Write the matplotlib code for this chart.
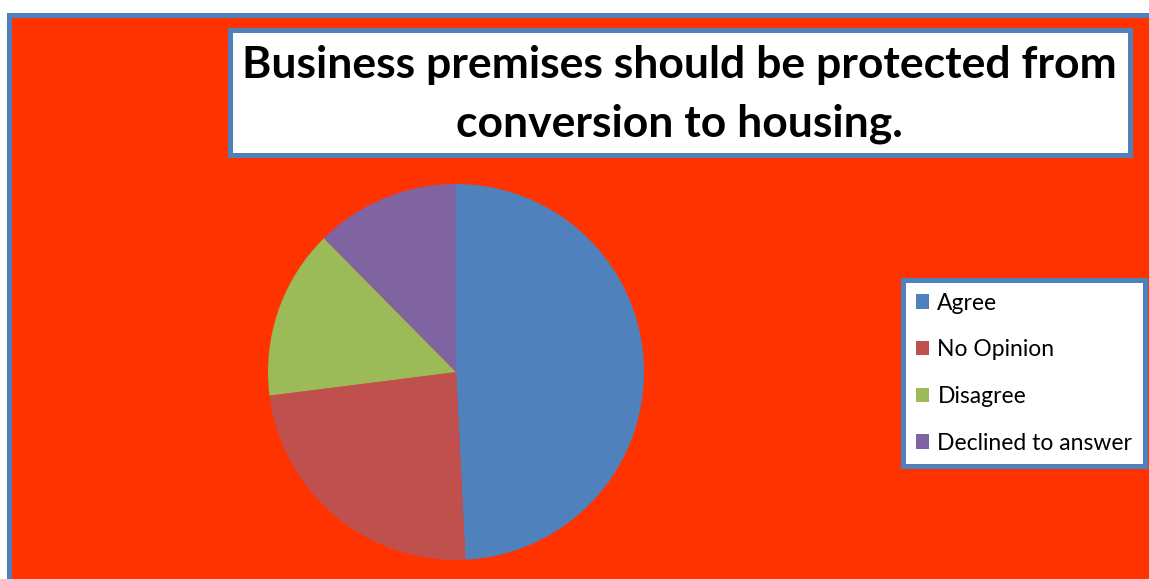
import matplotlib

matplotlib.use("Agg")
import matplotlib.pyplot as plt
from matplotlib.lines import Line2D
from matplotlib.patches import Rectangle, Patch

W, H = 1149, 579

TITLE_LINES = ["Business premises should be protected from", "conversion to housing."]
categories = ["Agree", "No Opinion", "Disagree", "Declined to answer"]
shares = [49.2, 23.8, 14.6, 12.4]
colors = ["#4F81BD", "#C0504D", "#9BBB59", "#8064A2"]

BG_RED = "#FF3300"
FRAME_BLUE = "#4F81BD"


def px_box(x0, y0, x1, y1):
    """Pixel box (top-left origin) -> figure fraction [left, bottom, width, height]."""
    return [x0 / W, 1 - y1 / H, (x1 - x0) / W, (y1 - y0) / H]


fig = plt.figure(figsize=(W / 100, H / 100), dpi=100)
fig.patch.set_facecolor("white")

# red chart area; its blue frame only shows on the left and top (rest is cropped)
l, b, w, h = px_box(8.5, 14.5, W, H)
fig.patches.append(Rectangle((l, b), w, h, transform=fig.transFigure,
                             facecolor=BG_RED, edgecolor="none", zorder=0))
fig.lines.append(Line2D([8.5 / W, 8.5 / W, 1], [0, 1 - 14.5 / H, 1 - 14.5 / H],
                        transform=fig.transFigure, color=FRAME_BLUE,
                        linewidth=3.6, solid_joinstyle="miter", zorder=0.5))

# title box
l, b, w, h = px_box(229.5, 30.5, 1129.5, 155.5)
fig.patches.append(Rectangle((l, b), w, h, transform=fig.transFigure,
                             facecolor="white", edgecolor=FRAME_BLUE,
                             linewidth=3.6, zorder=1))
for line, base_y in zip(TITLE_LINES, [78, 137]):
    fig.text((229.5 + 1129.5) / 2 / W, 1 - base_y / H, line, ha="center",
             va="baseline", fontsize=32, fontweight="bold", family="Lato",
             zorder=2)

# pie
cx, cy, r = 456, 372, 188
ax = fig.add_axes(px_box(cx - r, cy - r, cx + r, cy + r))
ax.set_zorder(3)
ax.pie(shares, colors=colors, startangle=90, counterclock=False, radius=1,
       wedgeprops=dict(linewidth=0))
ax.set_xlim(-1, 1)
ax.set_ylim(-1, 1)
ax.set_aspect("equal")
ax.axis("off")

handles = [Patch(facecolor=c, edgecolor="none") for c in colors]
leg = fig.legend(handles, categories, loc="upper left",
                 bbox_to_anchor=(903 / W, 1 - 280 / H),
                 prop=dict(family="Lato", size=16.5), frameon=True,
                 fancybox=False, borderpad=0.55, labelspacing=1.12,
                 handlelength=0.6, handleheight=0.6, handletextpad=0.35,
                 borderaxespad=0)
leg.set_zorder(4)
frame = leg.get_frame()
frame.set_edgecolor(FRAME_BLUE)
frame.set_linewidth(3.6)
frame.set_facecolor("white")
frame.set_alpha(1)

fig.savefig("out.png", dpi=100)
